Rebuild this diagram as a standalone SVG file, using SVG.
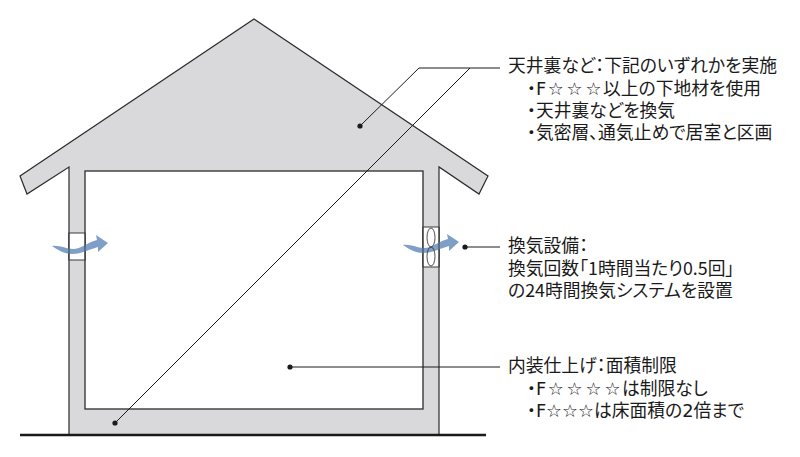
<svg xmlns="http://www.w3.org/2000/svg" width="800" height="457" viewBox="0 0 800 457">
<style>
.t{font-family:"Noto Sans CJK JP","Noto Sans",sans-serif;font-size:17.8px;fill:#1a1a1a;font-feature-settings:"palt"}
.ts{font-family:"DejaVu Sans","Noto Sans CJK JP",sans-serif}
.ld{stroke:#1a1a1a;stroke-width:1;fill:none}
.dot{fill:#1a1a1a}
.arr{fill:#7f9fc7}
</style>
<rect width="800" height="457" fill="#fff"/>
<g id="house">
<polygon points="254,19 488,176 479,194 439,167 439,435 69,435 69,167 27,194 20,176" fill="#d9d9dc" stroke="#2a2a2a" stroke-width="1.2" stroke-linejoin="miter"/>
<rect x="85" y="171" width="338" height="238" fill="#fff" stroke="#3a3a3a" stroke-width="1.4"/>
<line x1="20" y1="435" x2="486" y2="435" stroke="#1a1a1a" stroke-width="2.5"/>
</g>
<g id="window-left">
<rect x="69" y="233" width="16" height="27" fill="#fff" stroke="#3a3a3a" stroke-width="1"/>
<path class="arr" d="M52,246 C60,245 66,249 73,249 C81,249 88,242 97,240 L96,235 L108,243 L98,252 L98,247 C90,249 82,254 72,254 C64,254 58,250 52,246 Z"/>
<line x1="69" y1="233" x2="69" y2="260" stroke="#3a3a3a" stroke-width="1"/>
<line x1="85" y1="233" x2="85" y2="260" stroke="#3a3a3a" stroke-width="1"/>
</g>
<g id="window-right">
<rect x="423" y="227" width="16" height="40" fill="#fff" stroke="#3a3a3a" stroke-width="1"/>
<path class="arr" transform="translate(351,-1)" d="M52,246 C60,245 66,249 73,249 C81,249 88,242 97,240 L96,235 L108,243 L98,252 L98,247 C90,249 82,254 72,254 C64,254 58,250 52,246 Z"/>
<g fill="none" stroke="#3a3a3a" stroke-width="0.9">
<ellipse cx="431" cy="237.5" rx="4" ry="9.5"/>
<ellipse cx="431" cy="256.5" rx="4" ry="9.5"/>
</g>
<line x1="423" y1="227" x2="423" y2="267" stroke="#3a3a3a" stroke-width="1"/>
<line x1="439" y1="227" x2="439" y2="267" stroke="#3a3a3a" stroke-width="1"/>
</g>
<g id="connectors">
<polyline class="ld" points="360,126 419,68 500,68"/>
<line class="ld" x1="115" y1="423" x2="470" y2="68"/>
<line class="ld" x1="465" y1="247" x2="500" y2="247"/>
<line class="ld" x1="290" y1="367" x2="500" y2="367"/>
<circle class="dot" cx="360" cy="126" r="2.6"/>
<circle class="dot" cx="115" cy="423" r="2.6"/>
<circle class="dot" cx="465" cy="247" r="2.6"/>
<circle class="dot" cx="290" cy="367" r="2.6"/>
</g>
<g id="label-attic">
<text class="t" x="508" y="71.5">天井裏など：下記のいずれかを実施</text>
<text class="t ts" x="527" y="94.5" dx="0 0 1.5 3 3 1.5">・F☆☆☆以上の下地材を使用</text>
<text class="t" x="527" y="116.5">・天井裏などを換気</text>
<text class="t" x="527" y="138.5">・気密層、通気止めで居室と区画</text>
</g>
<g id="label-vent">
<text class="t" x="508" y="251.5">換気設備：</text>
<text class="t" x="508" y="274.5">換気回数「1時間当たり0.5回」</text>
<text class="t" x="508" y="296.5">の24時間換気システムを設置</text>
</g>
<g id="label-interior">
<text class="t" x="508" y="371.5">内装仕上げ：面積制限</text>
<text class="t ts" x="527" y="394.5" dx="0 0 1.5 3 3 3 1.5">・F☆☆☆☆は制限なし</text>
<text class="t ts" x="527" y="416.5">・F☆☆☆は床面積の2倍まで</text>
</g>
</svg>
